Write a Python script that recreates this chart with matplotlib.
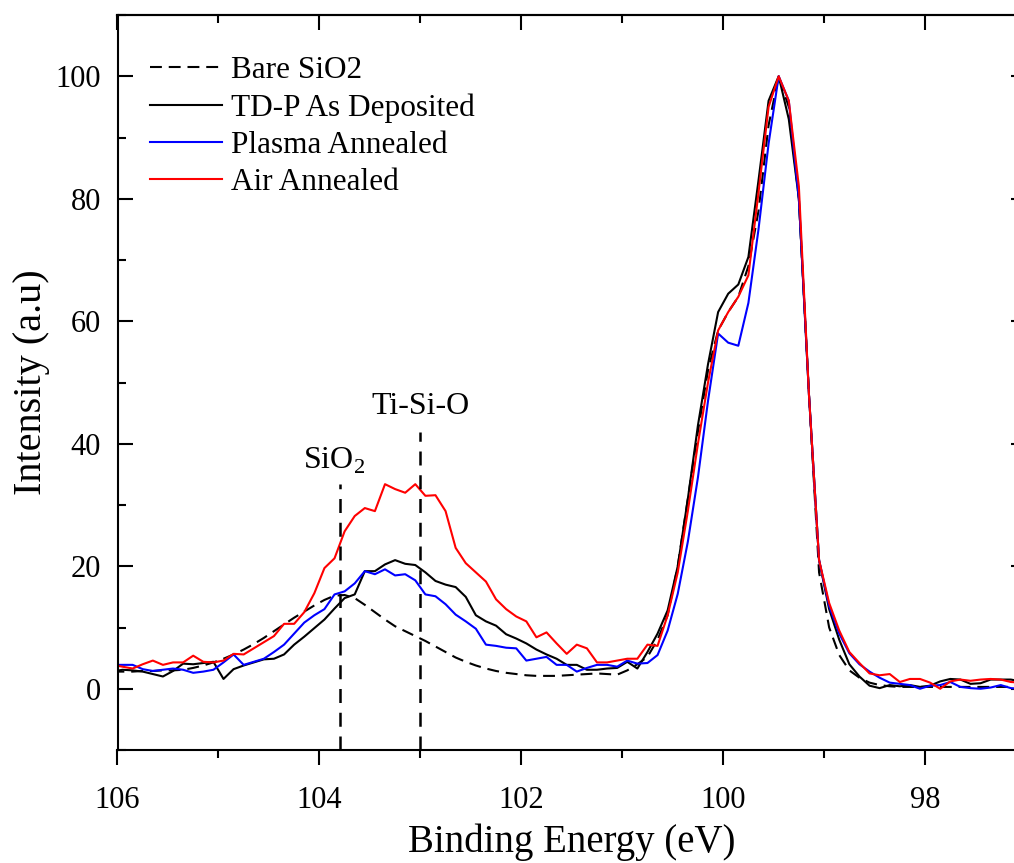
import numpy as np
import matplotlib
matplotlib.use('Agg')
import matplotlib.pyplot as plt
from matplotlib.ticker import MultipleLocator

plt.rcParams['font.family'] = 'Liberation Serif'
plt.rcParams['mathtext.fontset'] = 'custom'
plt.rcParams['mathtext.rm'] = 'Liberation Serif'

# binding energy grid (eV), 106.05 -> 97.05 in 0.1 steps
energy = np.round(np.arange(106.05, 97.0, -0.1), 2)

bare_sio2 = [
    2.8, 2.8, 2.8, 2.9, 2.9, 3.0, 3.0, 3.1, 3.4, 3.8,
    4.3, 4.9, 5.6, 6.4, 7.3, 8.3, 9.4, 10.5, 11.6, 12.6,
    13.6, 14.5, 15.2, 15.3, 14.8, 13.7, 12.5, 11.3, 10.2, 9.4,
    8.6, 7.8, 6.9, 6.0, 5.1, 4.4, 3.8, 3.3, 2.9, 2.6,
    2.4, 2.2, 2.1, 2.1, 2.1, 2.2, 2.3, 2.4, 2.5, 2.4,
    2.3, 3.0, 4.0, 5.2, 8.0, 12.0, 20.0, 31.0, 42.0, 52.0,
    58.5, 61.5, 64.0, 69.0, 78.0, 92.0, 100.0, 95.0, 80.0, 48.0,
    19.0, 10.0, 5.5, 3.0, 1.8, 1.0, 0.6, 0.4, 0.3, 0.3,
    0.3, 0.3, 0.3, 0.3, 0.3, 0.3, 0.3, 0.3, 0.3, 0.3, 0.3,
]

as_deposited = [
    2.8, 3.1, 3.0, 2.8, 2.4, 2.0, 2.9, 4.1, 4.0, 4.2,
    4.4, 1.6, 3.2, 3.8, 4.3, 4.8, 4.9, 5.6, 7.2, 8.5,
    9.9, 11.3, 13.1, 14.8, 15.4, 19.2, 19.2, 20.3, 21.0, 20.4,
    20.2, 19.0, 17.6, 17.0, 16.6, 15.0, 12.0, 11.0, 10.3, 8.9,
    8.2, 7.4, 6.4, 5.6, 4.9, 3.9, 3.9, 3.1, 3.1, 3.3,
    3.4, 4.4, 3.3, 6.0, 9.0, 12.8, 20.0, 31.0, 43.0, 53.0,
    61.5, 64.5, 66.0, 70.5, 83.0, 96.0, 100.0, 93.0, 80.0, 48.0,
    21.0, 13.0, 8.0, 4.0, 2.0, 0.5, 0.1, 0.6, 0.4, 0.6,
    0.3, 0.5, 1.2, 1.6, 1.5, 0.8, 0.9, 1.5, 1.5, 1.5, 1.2,
]

plasma_annealed = [
    3.9, 3.9, 3.9, 3.2, 2.9, 3.1, 3.3, 3.1, 2.6, 2.8,
    3.1, 4.3, 5.6, 3.9, 4.4, 4.9, 6.0, 7.2, 9.0, 10.8,
    12.0, 13.0, 15.4, 15.9, 17.2, 19.2, 18.7, 19.5, 18.5, 18.7,
    17.7, 15.4, 15.1, 13.8, 12.1, 11.0, 9.8, 7.2, 7.0, 6.7,
    6.6, 4.6, 4.9, 5.2, 3.9, 3.9, 2.8, 3.4, 3.9, 3.9,
    3.6, 4.6, 4.1, 4.2, 5.5, 9.5, 15.5, 24.0, 34.5, 47.0,
    58.0, 56.5, 56.0, 63.0, 75.0, 89.0, 100.0, 96.0, 80.0, 48.0,
    21.0, 13.5, 9.0, 5.8, 4.0, 2.8, 1.8, 1.0, 0.8, 0.6,
    0.0, 0.5, 0.6, 1.1, 0.3, 0.1, 0.0, 0.2, 0.6, 0.1, 0.0,
]

air_annealed = [
    3.9, 3.6, 3.3, 4.0, 4.6, 3.9, 4.3, 4.3, 5.4, 4.4,
    4.3, 4.6, 5.7, 5.6, 6.6, 7.6, 8.6, 10.6, 10.6, 12.5,
    15.6, 19.7, 21.3, 25.7, 28.2, 29.5, 29.0, 33.4, 32.6, 32.0,
    33.4, 31.5, 31.6, 29.0, 23.0, 20.5, 19.0, 17.5, 14.6, 13.0,
    11.8, 11.0, 8.4, 9.2, 7.4, 5.7, 7.2, 6.6, 4.3, 4.3,
    4.6, 4.9, 4.9, 7.2, 7.0, 12.0, 19.0, 29.0, 40.0, 50.0,
    58.5, 61.5, 64.0, 67.5, 81.0, 95.0, 100.0, 96.0, 82.0, 48.0,
    21.0, 14.0, 9.5, 6.0, 4.2, 2.5, 2.2, 2.4, 1.1, 1.6,
    1.6, 1.0, 0.0, 1.2, 1.5, 1.3, 1.5, 1.6, 1.5, 1.1, 1.0,
]

peak_pos = [103.8, 103.0]
peak_top = [33.5, 42.0]
peak_names = ['SiO$_\\mathrm{2}$', 'Ti-Si-O']
peak_text_y = [36.0, 44.8]
peak_text_x = [103.85, 103.0]

fig = plt.figure(figsize=(10.14, 8.63), dpi=100)
ax = fig.add_axes([117.5 / 1014, 1 - 750 / 863, 908.5 / 1014, 735 / 863])

ax.plot(energy, bare_sio2, color='black', lw=1.5, ls=(0, (5.7, 3.3)), label='Bare SiO2')
ax.plot(energy, as_deposited, color='black', lw=1.5, label='TD-P As Deposited')
ax.plot(energy, plasma_annealed, color='#0000ff', lw=1.5, label='Plasma Annealed')
ax.plot(energy, air_annealed, color='#ff0000', lw=1.5, label='Air Annealed')

for x, top, name, tx, ty in zip(peak_pos, peak_top, peak_names, peak_text_x, peak_text_y):
    ax.plot([x, x], [-10, top], color='black', lw=1.8, ls=(0, (5.6, 3.9)))
    ax.text(tx, ty, name, fontsize=23, ha='center', va='baseline')

ax.set_xlim(106, 97)
ax.set_ylim(-10, 110)
ax.xaxis.set_major_locator(MultipleLocator(2))
ax.xaxis.set_minor_locator(MultipleLocator(1))
ax.set_yticks([0, 20, 40, 60, 80, 100])
ax.set_yticks(np.arange(-10, 111, 10), minor=True)

for s in ax.spines.values():
    s.set_linewidth(1.5)
ax.tick_params(axis='x', which='both', direction='out', top=False, width=1.5, labelsize=22, pad=15)
ax.tick_params(axis='x', which='major', length=11)
ax.tick_params(axis='x', which='minor', length=6)
ax.tick_params(axis='y', which='both', direction='in', right=True, width=1.5, labelsize=22, pad=12)
ax.tick_params(axis='y', which='major', length=11)
ax.tick_params(axis='y', which='minor', length=6)

# inward ticks along the top edge
top = ax.secondary_xaxis('top')
top.xaxis.set_major_locator(MultipleLocator(2))
top.xaxis.set_minor_locator(MultipleLocator(1))
top.tick_params(which='both', direction='in', width=1.5, labeltop=False)
top.tick_params(which='major', length=11)
top.tick_params(which='minor', length=6)
top.spines['top'].set_linewidth(1.5)

ax.set_xlabel('Binding Energy (eV)', fontsize=28, labelpad=6)
ax.set_ylabel('Intensity (a.u)', fontsize=29, labelpad=4)

ax.legend(loc='upper left', bbox_to_anchor=(0.036, 0.944), frameon=False, fontsize=22.5,
          handlelength=2.3, handletextpad=0.3, labelspacing=0.26, borderpad=0, borderaxespad=0)

fig.savefig('out.png', dpi=100)
